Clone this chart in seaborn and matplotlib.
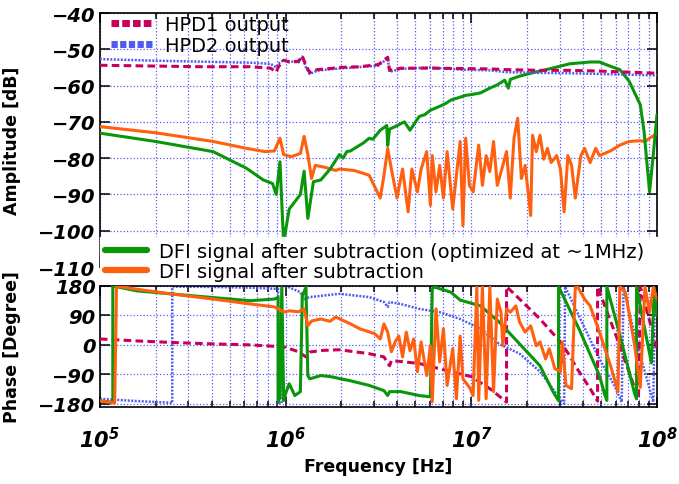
import numpy as np
import matplotlib
matplotlib.use("Agg")
import matplotlib.pyplot as plt
import seaborn as sns
from matplotlib.ticker import FuncFormatter, LogLocator, MultipleLocator, NullFormatter
from matplotlib.lines import Line2D

# ---- amplitude panel (x given as log10 of frequency in Hz) ----
hpd1_amp_logf = [5.00, 5.27, 5.54, 5.81, 5.92, 5.95, 5.96, 5.99, 6.02, 6.07, 6.09, 6.11, 6.13, 6.17,
                 6.24, 6.29, 6.40, 6.50, 6.55, 6.56, 6.62, 6.78, 6.94, 7.10, 7.19, 7.37, 7.53, 7.69,
                 7.85, 8.00]
hpd1_amp = [-54.4, -54.6, -54.8, -54.8, -55.2, -56.3, -55.0, -53.0, -53.5, -53.3, -51.8, -54.5, -56.4,
            -55.6, -55.3, -55.0, -54.8, -54.2, -52.2, -55.8, -55.2, -55.2, -55.3, -55.4, -55.6, -55.8,
            -55.8, -56.0, -56.3, -56.6]

hpd2_amp_logf = [5.00, 5.27, 5.54, 5.81, 5.92, 5.95, 5.96, 5.99, 6.02, 6.07, 6.09, 6.11, 6.13, 6.17,
                 6.24, 6.29, 6.40, 6.50, 6.55, 6.56, 6.62, 6.78, 6.94, 7.10, 7.19, 7.37, 7.53, 7.69,
                 7.85, 8.00]
hpd2_amp = [-52.7, -53.1, -53.4, -53.7, -54.0, -55.0, -54.0, -53.0, -53.3, -53.6, -52.0, -55.0, -56.8,
            -55.9, -55.5, -55.3, -54.9, -54.5, -52.5, -56.2, -55.4, -55.0, -55.6, -55.8, -56.3, -56.5,
            -56.6, -56.8, -57.0, -57.2]

green_amp_logf = [5.00, 5.30, 5.61, 5.79, 5.88, 5.93, 5.95, 5.97, 5.99, 6.00, 6.02, 6.05, 6.08, 6.10,
                  6.12, 6.15, 6.19, 6.24, 6.29, 6.31, 6.33, 6.35, 6.40, 6.42, 6.45, 6.47, 6.51, 6.545,
                  6.55, 6.56, 6.59, 6.64, 6.67, 6.72, 6.75, 6.78, 6.83, 6.86, 6.89, 6.97, 7.01, 7.05,
                  7.10, 7.14, 7.18, 7.20, 7.21, 7.26, 7.32, 7.42, 7.53, 7.64, 7.69, 7.75, 7.80, 7.85,
                  7.91, 7.93, 7.96, 7.98, 8.00]
green_amp = [-73.1, -75.4, -78.2, -82.8, -86.0, -87.0, -90.0, -81.0, -104.0, -100.0, -94.0, -92.0,
             -90.0, -83.6, -96.6, -86.5, -86.0, -83.0, -79.0, -80.0, -78.2, -78.0, -76.4, -75.8,
             -74.5, -74.8, -72.3, -71.0, -76.5, -72.0, -71.3, -70.0, -72.3, -68.5, -68.0, -66.8,
             -65.7, -65.0, -64.0, -62.7, -62.4, -62.0, -60.7, -59.8, -58.5, -60.7, -58.3, -57.4,
             -56.6, -55.4, -54.0, -53.5, -53.5, -54.7, -55.6, -58.8, -65.3, -72.5, -89.3, -79.0, -68.0]

orange_amp_logf = [5.00, 5.30, 5.61, 5.79, 5.89, 5.94, 5.97, 5.99, 6.03, 6.08, 6.10, 6.12, 6.14, 6.16,
                   6.21, 6.27, 6.29, 6.37, 6.45, 6.51, 6.53, 6.55, 6.57, 6.60, 6.63, 6.66, 6.68, 6.71,
                   6.73, 6.76, 6.78, 6.79, 6.81, 6.83, 6.85, 6.87, 6.90, 6.92, 6.94, 6.955, 6.97, 6.99,
                   7.01, 7.04, 7.06, 7.08, 7.10, 7.12, 7.14, 7.17, 7.19, 7.21, 7.23, 7.25, 7.27, 7.29,
                   7.32, 7.33, 7.35, 7.37, 7.39, 7.41, 7.43, 7.46, 7.48, 7.50, 7.52, 7.54, 7.56, 7.59,
                   7.61, 7.64, 7.67, 7.69, 7.75, 7.80, 7.85, 7.91, 7.935, 7.96, 7.99, 8.00]
orange_amp = [-71.3, -73.0, -75.4, -77.3, -78.2, -78.0, -74.5, -79.0, -79.6, -78.7, -74.0, -79.0,
              -85.6, -82.0, -82.5, -83.4, -83.0, -83.4, -84.7, -91.0, -84.7, -77.3, -83.0, -91.0,
              -83.0, -94.8, -83.0, -89.3, -83.0, -78.2, -93.0, -79.3, -89.3, -82.0, -91.0, -78.2,
              -94.0, -84.7, -75.4, -98.6, -74.5, -87.5, -89.3, -76.4, -87.5, -79.3, -83.7, -75.4,
              -87.5, -82.0, -78.2, -91.0, -74.5, -69.0, -85.6, -82.0, -95.8, -73.7, -78.2, -73.7,
              -80.3, -77.3, -81.2, -79.3, -83.0, -94.8, -79.3, -82.0, -91.0, -79.3, -77.3, -81.2,
              -77.3, -79.3, -78.0, -76.4, -75.4, -75.2, -75.4, -74.5, -73.6, -72.6]

# ---- phase panel ----
hpd1_ph_logf = [5.00, 5.20, 5.40, 5.60, 5.80, 5.99, 6.07, 6.11, 6.13, 6.20, 6.29, 6.45, 6.53, 6.56,
                6.57, 6.72, 6.89, 7.00, 7.10, 7.19, 7.19, 7.26, 7.37, 7.48, 7.53, 7.56, 7.64, 7.68,
                7.68, 7.80, 7.90, 7.91, 8.00]
hpd1_ph = [18, 12, 7, 3, 0, -6, -21, -37, -22, -17, -15, -27, -37, -64, -48, -57, -82, -97, -134,
           -175, 178, 140, 79, 9, -33, -64, -134, -172, 178, -3, -165, 178, -10]

hpd2_ph_logf = [5.00, 5.20, 5.38, 5.39, 5.39, 5.60, 5.80, 5.96, 5.96, 5.98, 5.98, 6.01, 6.08, 6.10,
                6.13, 6.29, 6.45, 6.53, 6.55, 6.56, 6.62, 6.72, 6.83, 6.94, 7.05, 7.15, 7.26, 7.37,
                7.45, 7.50, 7.505, 7.58, 7.69, 7.77, 7.81, 7.82, 7.85, 7.91, 7.96, 7.98, 7.99, 8.00]
hpd2_ph = [-165, -172, -177, -178, 178, 177, 175, 171, -178, -178, 178, 178, 161, 140, 146, 156, 146,
           131, 116, 131, 125, 110, 100, 79, 49, 3, -27, -82, -143, -180, 178, 88, -43, -124, -175,
           178, 100, -33, -134, -175, 178, 120]

green_ph_logf = [5.00, 5.07, 5.07, 5.20, 5.38, 5.60, 5.81, 5.94, 5.96, 5.96, 5.97, 5.98, 5.99, 6.00,
                 6.02, 6.05, 6.08, 6.09, 6.11, 6.12, 6.13, 6.19, 6.24, 6.35, 6.45, 6.53, 6.55, 6.56,
                 6.62, 6.72, 6.78, 6.79, 6.80, 6.89, 6.94, 7.05, 7.15, 7.26, 7.37, 7.44, 7.47, 7.47,
                 7.58, 7.69, 7.72, 7.73, 7.73, 7.80, 7.88, 7.89, 7.89, 7.93, 7.97, 7.985, 8.00]
green_ph = [-171, -176, 180, 165, 156, 145, 135, 140, 145, -175, -160, 175, -170, -149, -119, -155,
            -143, 150, 176, -94, -104, -94, -97, -110, -124, -140, -155, -143, -143, -155, -159, 171,
            177, 161, 137, 119, 70, 3, -64, -143, -171, 178, 49, -94, -155, -170, 178, 30, -150,
            -165, 178, 60, -55, 175, 90]

orange_ph_logf = [5.00, 5.08, 5.09, 5.20, 5.38, 5.61, 5.81, 5.94, 5.96, 5.99, 6.02, 6.07, 6.10, 6.12,
                  6.14, 6.19, 6.24, 6.27, 6.35, 6.40, 6.48, 6.51, 6.53, 6.55, 6.57, 6.59, 6.61, 6.63,
                  6.65, 6.67, 6.69, 6.71, 6.73, 6.76, 6.78, 6.79, 6.81, 6.83, 6.85, 6.87, 6.90, 6.92,
                  6.94, 6.955, 6.99, 7.01, 7.03, 7.04, 7.06, 7.08, 7.10, 7.12, 7.14, 7.16, 7.17, 7.19,
                  7.21, 7.24, 7.26, 7.29, 7.32, 7.35, 7.37, 7.40, 7.42, 7.45, 7.48, 7.49, 7.51, 7.54,
                  7.56, 7.57, 7.61, 7.64, 7.69, 7.75, 7.79, 7.80, 7.83, 7.88, 7.91, 7.935, 7.96, 7.98,
                  8.00]
orange_ph = [-171, -178, 180, 170, 156, 140, 125, 116, 110, 100, 104, 101, 110, 58, 73, 79, 72, 85,
             64, 49, 34, 18, 64, 39, -21, 9, 27, -37, 39, -18, 18, -82, 9, -94, -3, -174, 110, -52,
             49, -124, -12, -165, 27, -104, -130, -155, 177, -170, 177, -165, 177, -143, 140, 100,
             -3, 110, 100, 119, 70, 39, 58, -3, 9, -43, -12, -73, -82, 9, -124, -134, 175, 180, 140,
             119, 39, -64, -143, 178, 161, -3, -130, 178, 100, 175, 140]

c_hpd1 = "#C8005A"
c_hpd2 = "#4F5BF0"
c_green = "#0A960A"
c_orange = "#FF6010"
grid_c = "#5A5AF5"

sns.set_style("ticks")
plt.rcParams["font.family"] = ["DejaVu Sans"]
plt.rcParams["text.color"] = "black"
plt.rcParams["axes.labelcolor"] = "black"
plt.rcParams["xtick.color"] = "black"
plt.rcParams["ytick.color"] = "black"
plt.rcParams["mathtext.fontset"] = "custom"
plt.rcParams["mathtext.bf"] = "DejaVu Sans:bold:italic"
plt.rcParams["mathtext.rm"] = "DejaVu Sans:bold:italic"
plt.rcParams["mathtext.it"] = "DejaVu Sans:bold:italic"

fig = plt.figure(figsize=(6.79, 4.85), dpi=100)
ax1 = fig.add_axes([0.147, 0.4474, 0.8206, 0.5237])
ax2 = fig.add_axes([0.147, 0.1588, 0.8206, 0.2495])


def draw(ax, logf, vals, color, lw, dashes=None, z=2):
    f = 10 ** np.asarray(logf, dtype=float)
    sns.lineplot(x=f, y=vals, ax=ax, estimator=None, sort=False, color=color, lw=lw,
                 legend=False, zorder=z)
    if dashes is not None:
        ax.get_lines()[-1].set_dashes(dashes)


# amplitude
draw(ax1, hpd2_amp_logf, hpd2_amp, c_hpd2, 1.8, (0.8, 0.6), 4)
draw(ax1, orange_amp_logf, orange_amp, c_orange, 2.2, None, 3)
draw(ax1, green_amp_logf, green_amp, c_green, 2.2, None, 3)
draw(ax1, hpd1_amp_logf, hpd1_amp, c_hpd1, 2.2, (2.5, 1.4), 5)

# phase
draw(ax2, hpd2_ph_logf, hpd2_ph, c_hpd2, 1.8, (0.8, 0.6), 2)
draw(ax2, hpd1_ph_logf, hpd1_ph, c_hpd1, 2.2, (2.5, 1.4), 3)
draw(ax2, green_ph_logf, green_ph, c_green, 2.2, None, 4)
draw(ax2, orange_ph_logf, orange_ph, c_orange, 2.2, None, 5)

for ax in (ax1, ax2):
    ax.set_xscale("log")
    ax.set_xlim(1e5, 1e8)
    ax.xaxis.set_major_locator(LogLocator(base=10, numticks=10))
    ax.xaxis.set_minor_locator(LogLocator(base=10, subs=np.arange(2, 10), numticks=20))
    ax.xaxis.set_minor_formatter(NullFormatter())
    ax.grid(True, which="both", axis="x", color=grid_c, ls=":", lw=0.9)
    ax.grid(True, which="major", axis="y", color=grid_c, ls=":", lw=0.9)
    ax.tick_params(which="both", direction="in", top=True, right=True, width=1.1, color="black")
    ax.tick_params(which="major", length=7)
    ax.tick_params(which="minor", length=4)
    ax.tick_params(axis="y", labelsize=14, pad=3)
    for s in ax.spines.values():
        s.set_linewidth(1.2)
        s.set_color("black")
    ax.set_axisbelow(True)

ax1.set_ylim(-110, -40)
ax1.yaxis.set_major_locator(MultipleLocator(10))
ax1.tick_params(axis="x", labelbottom=False)
ax1.set_xlabel("")

ax2.set_ylim(-190, 180)
ax2.set_yticks([-180, -90, 0, 90, 180])
ax2.xaxis.set_major_formatter(FuncFormatter(lambda v, p: r"$\mathbf{10^{%d}}$" % round(np.log10(v))))
ax2.tick_params(axis="x", labelsize=15, pad=14)

for ax in (ax1, ax2):
    for lab in ax.get_yticklabels():
        lab.set_fontstyle("italic")
        lab.set_fontweight("bold")

ax1.set_ylabel("Amplitude [dB]", fontsize=12.5, fontweight="bold")
ax2.set_ylabel("Phase [Degree]", fontsize=12.5, fontweight="bold")
ax1.yaxis.set_label_coords(-0.142, 0.5)
ax2.yaxis.set_label_coords(-0.142, 0.5)
ax2.set_xlabel("Frequency [Hz]", fontsize=12.5, fontweight="bold", labelpad=4)

# legends
h_top = [Line2D([], [], color=c_hpd1, lw=5, dashes=(1.1, 0.45)),
         Line2D([], [], color=c_hpd2, lw=5, dashes=(0.9, 0.35))]
leg1 = ax1.legend(h_top, ["HPD1 output", "HPD2 output"], loc="upper left", frameon=False,
                  fontsize=14, handlelength=2.2, handletextpad=0.6, labelspacing=0.1,
                  borderaxespad=0, borderpad=0.55, bbox_to_anchor=(0.0, 1.035))
ax1.add_artist(leg1)

h_bot = [Line2D([], [], color=c_green, lw=4.5), Line2D([], [], color=c_orange, lw=4.5)]
leg2 = ax1.legend(h_bot, ["DFI signal after subtraction (optimized at ~1MHz)",
                          "DFI signal after subtraction"],
                  loc="lower left", bbox_to_anchor=(0.0, -0.075, 1.0, 0.2), mode="expand",
                  frameon=True, fancybox=False, framealpha=1, facecolor="white",
                  edgecolor="white", fontsize=14, handlelength=2.2, handletextpad=0.6,
                  labelspacing=0.05, borderaxespad=0, borderpad=0.25)
leg2.set_zorder(6)

fig.savefig("out.png", dpi=100)
